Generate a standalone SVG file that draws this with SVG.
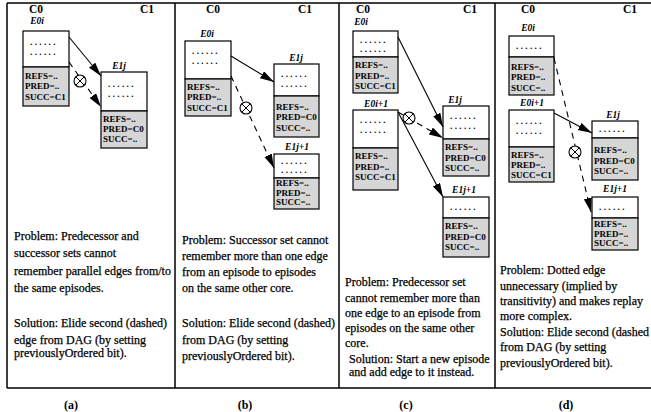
<svg xmlns="http://www.w3.org/2000/svg" width="651" height="412" viewBox="0 0 651 412">
<style>
.hdr{font-family:"Liberation Serif",serif;font-weight:bold;font-size:11.5px;text-anchor:middle}
.lbl{font-family:"Liberation Serif",serif;font-weight:bold;font-style:italic;font-size:9.5px;text-anchor:middle}
.nt{font-family:"Liberation Serif",serif;font-weight:bold;font-size:9px}
.dt{font-family:"Liberation Serif",serif;font-weight:bold;font-size:9px;letter-spacing:2.4px}
.p{font-family:"Liberation Serif",serif;font-size:12px;white-space:pre;stroke:#000;stroke-width:0.25}
.cap{font-family:"Liberation Serif",serif;font-weight:bold;font-size:12px;text-anchor:middle}
.top{fill:#fff;stroke:#000;stroke-width:1.2}
.bot{fill:#d6d6d6;stroke:#000;stroke-width:1.2}
.frame{stroke:#000;stroke-width:1.5;fill:none}
.e{stroke:#000;stroke-width:1.1;fill:none;marker-end:url(#ah)}
.d{stroke-dasharray:6 5}
.x{fill:#fff;stroke:#000;stroke-width:1.1}
</style>
<defs>
<marker id="ah" markerUnits="userSpaceOnUse" markerWidth="15" markerHeight="9" refX="14" refY="4" orient="auto">
<path d="M0,0 L14,4 L0,8 Z" fill="#000"/>
</marker>
<g id="xs"><circle r="6" class="x"/><path d="M-4.2,-4.2 L4.2,4.2 M-4.2,4.2 L4.2,-4.2" stroke="#000" stroke-width="1"/></g>
</defs>
<rect width="651" height="412" fill="#fff"/>
<g id="frame" class="frame">
<path d="M7,3 H651 M7,3 V388 M7,388 H651 M175,3 V388 M339,3 V388 M495,3 V388"/>
</g>
<g id="headers" class="hdr">
<text x="36" y="13">C0</text><text x="147" y="13">C1</text>
<text x="213" y="13">C0</text><text x="305" y="13">C1</text>
<text x="363" y="13">C0</text><text x="470" y="13">C1</text>
<text x="528" y="13">C0</text><text x="630" y="13">C1</text>
</g>
<!-- panel a -->
<g id="a-E0i">
<text class="lbl" x="37" y="24">E0i</text>
<rect class="top" x="23" y="31" width="46" height="36"/>
<rect class="bot" x="23" y="67" width="46" height="39"/>
<text class="dt" x="30" y="45">......</text><text class="dt" x="30" y="55">......</text>
<text class="nt" x="25" y="78.5">REFS=..</text><text class="nt" x="25" y="89">PRED=..</text><text class="nt" x="25" y="99.5">SUCC=C1</text>
</g>
<g id="a-E1j">
<text class="lbl" x="119" y="69">E1j</text>
<rect class="top" x="101" y="72" width="46" height="39"/>
<rect class="bot" x="101" y="111" width="46" height="37"/>
<text class="dt" x="108" y="87">......</text><text class="dt" x="108" y="97">......</text>
<text class="nt" x="103" y="121.5">REFS=..</text><text class="nt" x="103" y="131.5">PRED=C0</text><text class="nt" x="103" y="141.5">SUCC=..</text>
</g>
<!-- panel b -->
<g id="b-E0i">
<text class="lbl" x="207" y="37">E0i</text>
<rect class="top" x="185" y="41" width="46" height="38"/>
<rect class="bot" x="185" y="79" width="46" height="37"/>
<text class="dt" x="192" y="54">......</text><text class="dt" x="192" y="64">......</text>
<text class="nt" x="187" y="89.5">REFS=..</text><text class="nt" x="187" y="100">PRED=..</text><text class="nt" x="187" y="110.5">SUCC=C1</text>
</g>
<g id="b-E1j">
<text class="lbl" x="296" y="61">E1j</text>
<rect class="top" x="274" y="64" width="45" height="32"/>
<rect class="bot" x="274" y="96" width="45" height="41"/>
<text class="dt" x="281" y="77">......</text><text class="dt" x="281" y="87">......</text>
<text class="nt" x="276" y="109.5">REFS=..</text><text class="nt" x="276" y="120">PRED=C0</text><text class="nt" x="276" y="130.5">SUCC=..</text>
</g>
<g id="b-E1j1">
<text class="lbl" x="297" y="150">E1j+1</text>
<rect class="top" x="274" y="154" width="45" height="24"/>
<rect class="bot" x="274" y="178" width="45" height="31"/>
<text class="dt" x="281" y="164">......</text><text class="dt" x="281" y="173">......</text>
<text class="nt" x="276" y="186">REFS=..</text><text class="nt" x="276" y="195.5">PRED=..</text><text class="nt" x="276" y="205">SUCC=..</text>
</g>
<!-- panel c -->
<g id="c-E0i">
<text class="lbl" x="361" y="25">E0i</text>
<rect class="top" x="353" y="31" width="45" height="26"/>
<rect class="bot" x="353" y="57" width="45" height="36"/>
<text class="dt" x="360" y="43">......</text><text class="dt" x="360" y="52">......</text>
<text class="nt" x="355" y="68">REFS=..</text><text class="nt" x="355" y="78.5">PRED=..</text><text class="nt" x="355" y="89">SUCC=C1</text>
</g>
<g id="c-E0i1">
<text class="lbl" x="376" y="107">E0i+1</text>
<rect class="top" x="353" y="110" width="45" height="38"/>
<rect class="bot" x="353" y="148" width="45" height="42"/>
<text class="dt" x="360" y="123">......</text><text class="dt" x="360" y="133">......</text>
<text class="nt" x="355" y="159">REFS=..</text><text class="nt" x="355" y="169.5">PRED=..</text><text class="nt" x="355" y="180">SUCC=C1</text>
</g>
<g id="c-E1j">
<text class="lbl" x="455" y="103">E1j</text>
<rect class="top" x="443" y="106" width="46" height="33"/>
<rect class="bot" x="443" y="139" width="46" height="37"/>
<text class="dt" x="450" y="119">......</text><text class="dt" x="450" y="129">......</text>
<text class="nt" x="445" y="150">REFS=..</text><text class="nt" x="445" y="160.5">PRED=C0</text><text class="nt" x="445" y="171">SUCC=..</text>
</g>
<g id="c-E1j1">
<text class="lbl" x="464" y="193">E1j+1</text>
<rect class="top" x="443" y="197" width="46" height="21"/>
<rect class="bot" x="443" y="218" width="46" height="39"/>
<text class="dt" x="450" y="210">......</text>
<text class="nt" x="445" y="229">REFS=..</text><text class="nt" x="445" y="239.5">PRED=C0</text><text class="nt" x="445" y="250">SUCC=..</text>
</g>
<!-- panel d -->
<g id="d-E0i">
<text class="lbl" x="528" y="31">E0i</text>
<rect class="top" x="509" y="36" width="45" height="21"/>
<rect class="bot" x="509" y="57" width="45" height="38"/>
<text class="dt" x="516" y="49">......</text>
<text class="nt" x="511" y="69.5">REFS=..</text><text class="nt" x="511" y="80">PRED=..</text><text class="nt" x="511" y="90.5">SUCC=..</text>
</g>
<g id="d-E0i1">
<text class="lbl" x="532" y="106">E0i+1</text>
<rect class="top" x="509" y="110" width="45" height="37"/>
<rect class="bot" x="509" y="147" width="45" height="35"/>
<text class="dt" x="516" y="124">......</text><text class="dt" x="516" y="134">......</text>
<text class="nt" x="511" y="158">REFS=..</text><text class="nt" x="511" y="168">PRED=..</text><text class="nt" x="511" y="178">SUCC=C1</text>
</g>
<g id="d-E1j">
<text class="lbl" x="613" y="118">E1j</text>
<rect class="top" x="592" y="121" width="46" height="17"/>
<rect class="bot" x="592" y="138" width="46" height="42"/>
<text class="dt" x="599" y="132">......</text>
<text class="nt" x="594" y="153">REFS=..</text><text class="nt" x="594" y="163.5">PRED=C0</text><text class="nt" x="594" y="174">SUCC=..</text>
</g>
<g id="d-E1j1">
<text class="lbl" x="615" y="192">E1j+1</text>
<rect class="top" x="592" y="197" width="46" height="21"/>
<rect class="bot" x="592" y="218" width="46" height="32"/>
<text class="dt" x="599" y="210">......</text>
<text class="nt" x="594" y="227">REFS=..</text><text class="nt" x="594" y="236.5">PRED=..</text><text class="nt" x="594" y="246">SUCC=..</text>
</g>
<g id="connectors">
<line class="e" x1="69" y1="37" x2="101" y2="76"/>
<line class="e d" x1="69" y1="62" x2="101" y2="107"/>
<use href="#xs" x="80" y="81"/>
<line class="e" x1="231" y1="56" x2="274" y2="82"/>
<line class="e d" x1="231" y1="76" x2="274" y2="168"/>
<use href="#xs" x="246" y="108"/>
<line class="e" x1="398" y1="37" x2="443" y2="127"/>
<line class="e" x1="398" y1="112" x2="443" y2="197"/>
<line class="e d" x1="398" y1="112" x2="443" y2="138"/>
<use href="#xs" x="409" y="118"/>
<line class="e" x1="554" y1="113" x2="592" y2="133"/>
<line class="e d" x1="554" y1="58" x2="591" y2="212"/>
<use href="#xs" x="575" y="152"/>
</g>
<g id="text-a" class="p">
<text x="14" y="240">Problem: Predecessor and</text>
<text x="14" y="257">successor sets cannot</text>
<text x="14" y="275">remember parallel edges from/to</text>
<text x="14" y="292">the same episodes.</text>
<text x="14" y="327">Solution: Elide second (dashed)</text>
<text x="14" y="344">edge from  DAG (by setting</text>
<text x="14" y="357">previouslyOrdered bit).</text>
</g>
<g id="text-b" class="p">
<text x="182" y="244">Problem: Successor set cannot</text>
<text x="182" y="260">remember more than one edge</text>
<text x="182" y="276">from an episode to episodes</text>
<text x="182" y="292">on the same other core.</text>
<text x="182" y="327">Solution: Elide second (dashed)</text>
<text x="182" y="344">from DAG (by setting</text>
<text x="182" y="360">previouslyOrdered bit).</text>
</g>
<g id="text-c" class="p">
<text x="345" y="286">Problem: Predecessor set</text>
<text x="345" y="302">cannot remember more than</text>
<text x="345" y="317">one edge to an episode from</text>
<text x="345" y="332">episodes on the same other</text>
<text x="345" y="347">core.</text>
<text x="349" y="363">Solution: Start a new episode</text>
<text x="349" y="376">and add edge to it instead.</text>
</g>
<g id="text-d" class="p">
<text x="500" y="274">Problem: Dotted edge</text>
<text x="500" y="290">unnecessary (implied by</text>
<text x="500" y="305">transitivity) and makes replay</text>
<text x="500" y="320">more complex.</text>
<text x="500" y="336">Solution: Elide second (dashed</text>
<text x="500" y="351">from DAG (by setting</text>
<text x="500" y="367">previouslyOrdered bit).</text>
</g>
<g id="captions" class="cap">
<text x="71" y="409">(a)</text><text x="245" y="409">(b)</text><text x="406" y="409">(c)</text><text x="566" y="409">(d)</text>
</g>
</svg>
